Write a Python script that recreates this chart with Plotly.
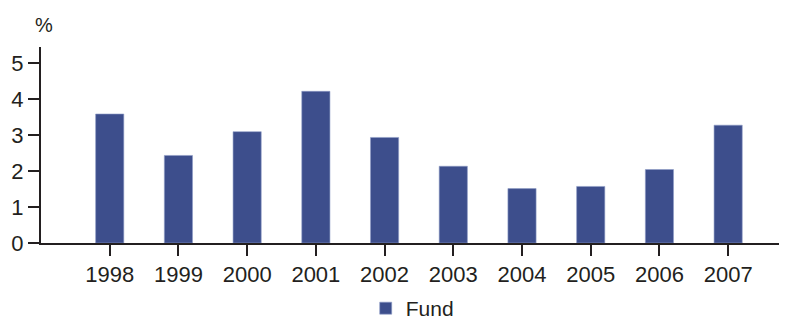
import plotly.graph_objects as go

# Annual values for the fund, in percent
years = [1998, 1999, 2000, 2001, 2002, 2003, 2004, 2005, 2006, 2007]
fund = [3.58, 2.43, 3.09, 4.21, 2.93, 2.13, 1.51, 1.57, 2.04, 3.27]
y_ticks = [0, 1, 2, 3, 4, 5]

BAR = "#3d4e8c"
INK = "#231f20"
FONT = "Liberation Sans, Arial, sans-serif"

fig = go.Figure()
fig.add_trace(go.Bar(
    x=years, y=fund, name="Fund",
    marker=dict(color=BAR, line=dict(color="#8f9cc6", width=0.6)),
    width=0.41,
))

fig.update_layout(
    width=785, height=320,
    margin=dict(l=41, r=6, t=47, b=77, autoexpand=False),
    paper_bgcolor="white", plot_bgcolor="white",
    font=dict(family=FONT, size=22, color=INK),
    showlegend=True,
    legend=dict(orientation="h", x=0.503, xanchor="center",
                yref="container", y=0.10, yanchor="top",
                bgcolor="rgba(0,0,0,0)",
                font=dict(size=21, color=INK), itemwidth=30),
    xaxis=dict(
        range=[1997, 2007.74],
        tickvals=years, ticktext=[str(y) for y in years],
        showline=True, linecolor=INK, linewidth=2,
        ticks="outside", ticklen=11, tickwidth=2, tickcolor=INK,
        showgrid=False, zeroline=False,
    ),
    yaxis=dict(
        range=[0, 5.44],
        tickvals=y_ticks,
        showline=True, linecolor=INK, linewidth=2,
        ticks="outside", ticklen=11, tickwidth=2, tickcolor=INK,
        showgrid=False, zeroline=False,
    ),
    annotations=[dict(
        text="%", xref="paper", yref="paper", x=0, y=1,
        xanchor="center", yanchor="bottom", yshift=9, xshift=3,
        showarrow=False, font=dict(size=20, color=INK),
    )],
)

fig.write_html("out.html")
